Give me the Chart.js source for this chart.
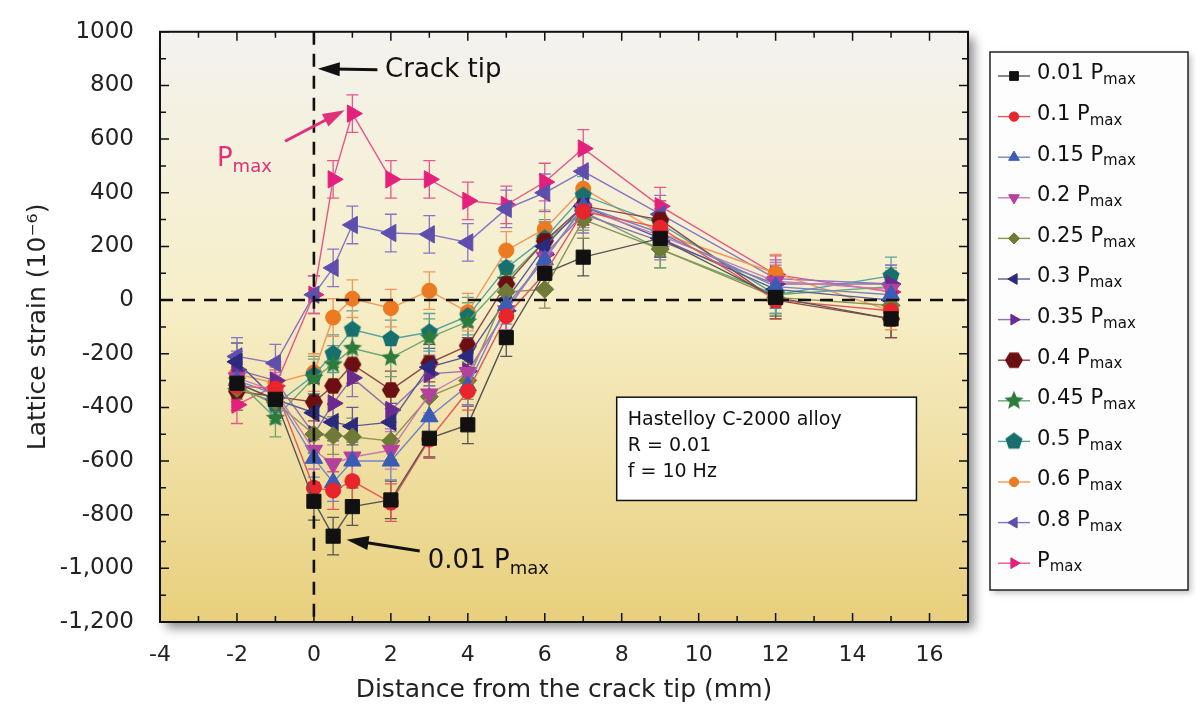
<!DOCTYPE html>
<html lang="en">
<head>
<meta charset="UTF-8">
<title>Lattice strain near the crack tip</title>
<script src="https://cdn.jsdelivr.net/npm/chart.js"></script>
<style>
  html, body { margin: 0; padding: 0; background: #fff; }
</style>
</head>
<body>
<canvas id="strainChart" width="1196" height="714"></canvas>
<script>
// distance from the crack tip (mm)
const distances = [-2, -1, 0, 0.5, 1, 2, 3, 4, 5, 6, 7, 9, 12, 15];

// lattice strain (1e-6) for each load level
const strain001 = [-310, -370, -750, -880, -770, -745, -515, -465, -140, 100, 160, 230, 10, -70];
const strain010 = [-320, -330, -700, -710, -675, -755, -520, -340, -60, 100, 330, 270, 0, -40];
const strain015 = [-300, -350, -590, -680, -600, -600, -435, -320, -20, 150, 350, 250, 50, 20];
const strain020 = [-290, -340, -560, -610, -585, -560, -350, -270, -40, 160, 340, 240, 70, 40];
const strain025 = [-330, -380, -500, -505, -510, -525, -360, -300, 30, 40, 300, 190, 10, -20];
const strain030 = [-230, -370, -420, -455, -470, -455, -250, -210, 0, 200, 350, 230, 40, 0];
const strain035 = [-260, -300, -500, -385, -290, -410, -275, -265, -40, 170, 320, 220, 60, 60];
const strain040 = [-340, -360, -380, -320, -240, -335, -235, -170, 60, 220, 350, 300, 0, -70];
const strain045 = [-300, -440, -290, -240, -180, -215, -140, -80, 75, 220, 330, 190, 20, 50];
const strain050 = [-320, -390, -280, -200, -110, -145, -120, -60, 120, 230, 390, 285, 20, 90];
const strain060 = [-275, -310, -270, -65, 5, -30, 35, -45, 185, 265, 415, 250, 100, -40];
const strain080 = [-210, -235, 20, 120, 280, 250, 245, 215, 340, 400, 480, 320, 80, 60];
const strainPmax = [-390, -320, 20, 450, 695, 450, 450, 370, 355, 440, 565, 350, 95, 30];

const loadFractions = ['0.01', '0.1', '0.15', '0.2', '0.25', '0.3', '0.35', '0.4', '0.45', '0.5', '0.6', '0.8', ''];
const strainSeries = [strain001, strain010, strain015, strain020, strain025, strain030, strain035,
                      strain040, strain045, strain050, strain060, strain080, strainPmax];
const strainError = 70;

const xTicks = [-4, -2, 0, 2, 4, 6, 8, 10, 12, 14, 16];
const yTicks = [1000, 800, 600, 400, 200, 0, -200, -400, -600, -800, -1000, -1200];
const yTickText = ['1000', '800', '600', '400', '200', '0', '-200', '-400', '-600', '-800', '-1,000', '-1,200'];

const FONT = 'DejaVu Sans';

// small canvases for the marker shapes chart.js doesn't have
function polygonMarker(sides, color, r, starred) {
  const size = Math.ceil(r * 2 + 2);
  const c = document.createElement('canvas');
  c.width = size; c.height = size;
  const g = c.getContext('2d');
  g.fillStyle = color;
  g.beginPath();
  const n = starred ? sides * 2 : sides;
  for (let i = 0; i < n; i++) {
    const a = -Math.PI / 2 + i * 2 * Math.PI / n + (sides === 6 ? Math.PI / 6 : 0);
    const rr = starred && i % 2 ? r * 0.45 : r;
    const px = size / 2 + rr * Math.cos(a), py = size / 2 + rr * Math.sin(a);
    if (i === 0) g.moveTo(px, py); else g.lineTo(px, py);
  }
  g.closePath();
  g.fill();
  return c;
}

const markerColors = ['#111111', '#e8242c', '#3c5cb4', '#b5419e', '#6e7a35', '#2b2a7e',
                      '#6a2a8e', '#6c0f12', '#2d7b3c', '#17706e', '#ec7a22', '#5e4fac', '#e5207c'];
const lineColors   = ['#555555', '#e2585a', '#7385c6', '#c47bb6', '#8f9255', '#5a5a96',
                      '#9270b0', '#8a4a45', '#6aa673', '#58a3a2', '#f0985a', '#8676c6', '#e4588e'];
const markerStyles = [
  { style: 'rect', r: 10, rot: 0 },
  { style: 'circle', r: 7.5, rot: 0 },
  { style: 'triangle', r: 10, rot: 0 },
  { style: 'triangle', r: 10, rot: 180 },
  { style: 'rectRot', r: 9, rot: 0 },
  { style: 'triangle', r: 10, rot: -90 },
  { style: 'triangle', r: 10, rot: 90 },
  { style: polygonMarker(6, markerColors[7], 9), r: 9, rot: 0 },
  { style: polygonMarker(5, markerColors[8], 10, true), r: 10, rot: 0 },
  { style: polygonMarker(5, markerColors[9], 9), r: 9, rot: 0 },
  { style: 'circle', r: 7.5, rot: 0 },
  { style: 'triangle', r: 10, rot: -90 },
  { style: 'triangle', r: 10, rot: 90 }
];

const datasets = strainSeries.map((vals, i) => ({
  label: loadFractions[i] + ' Pmax',
  data: distances.map((d, j) => ({ x: d, y: vals[j] })),
  borderColor: lineColors[i],
  borderWidth: 1.4,
  backgroundColor: markerColors[i],
  pointBackgroundColor: markerColors[i],
  pointBorderColor: markerColors[i],
  pointBorderWidth: 1,
  pointStyle: markerStyles[i].style,
  pointRadius: markerStyles[i].r,
  pointRotation: markerStyles[i].rot,
  tension: 0,
  clip: false
}));

function drawSubLabel(ctx, main, x, y, size, color) {
  ctx.fillStyle = color;
  ctx.font = size + 'px "' + FONT + '"';
  ctx.textAlign = 'left';
  ctx.textBaseline = 'middle';
  ctx.fillText(main, x, y);
  const w = ctx.measureText(main).width;
  ctx.font = Math.round(size * 0.7) + 'px "' + FONT + '"';
  ctx.fillText('max', x + w, y + size * 0.3);
}

function arrow(ctx, x1, y1, x2, y2, color) {
  const a = Math.atan2(y2 - y1, x2 - x1);
  const head = 22, half = 7;
  ctx.strokeStyle = color; ctx.fillStyle = color; ctx.lineWidth = 3;
  ctx.beginPath();
  ctx.moveTo(x1, y1);
  ctx.lineTo(x2 - head * Math.cos(a) * 0.8, y2 - head * Math.sin(a) * 0.8);
  ctx.stroke();
  ctx.beginPath();
  ctx.moveTo(x2, y2);
  ctx.lineTo(x2 - head * Math.cos(a) + half * Math.sin(a), y2 - head * Math.sin(a) - half * Math.cos(a));
  ctx.lineTo(x2 - head * Math.cos(a) - half * Math.sin(a), y2 - head * Math.sin(a) + half * Math.cos(a));
  ctx.closePath();
  ctx.fill();
}

const framePlugin = {
  id: 'frame',
  beforeDraw(chart) {
    const { ctx, chartArea: a } = chart;
    ctx.save();
    const grad = ctx.createLinearGradient(0, a.top, 0, a.bottom);
    grad.addColorStop(0, '#f3f2ee');
    grad.addColorStop(0.45, '#f7efc9');
    grad.addColorStop(1, '#e8cf7c');
    ctx.shadowColor = 'rgba(0,0,0,0.45)';
    ctx.shadowBlur = 10;
    ctx.shadowOffsetX = 6;
    ctx.shadowOffsetY = 6;
    ctx.fillStyle = grad;
    ctx.fillRect(a.left, a.top, a.right - a.left, a.bottom - a.top);

    // legend box
    ctx.shadowColor = 'rgba(0,0,0,0.25)';
    ctx.shadowBlur = 6;
    ctx.shadowOffsetX = 3;
    ctx.shadowOffsetY = 3;
    ctx.fillStyle = '#fdfdfd';
    ctx.fillRect(990, 52, 198, 538);
    ctx.restore();
  },
  beforeDatasetsDraw(chart) {
    const { ctx, scales: { x, y } } = chart;
    ctx.save();
    chart.data.datasets.forEach(ds => {
      ctx.strokeStyle = ds.borderColor;
      ctx.lineWidth = 1.3;
      ds.data.forEach(p => {
        const px = x.getPixelForValue(p.x);
        const top = y.getPixelForValue(p.y + strainError);
        const bot = y.getPixelForValue(p.y - strainError);
        ctx.beginPath();
        ctx.moveTo(px, top); ctx.lineTo(px, bot);
        ctx.moveTo(px - 6, top); ctx.lineTo(px + 6, top);
        ctx.moveTo(px - 6, bot); ctx.lineTo(px + 6, bot);
        ctx.stroke();
      });
    });
    ctx.restore();
  },
  afterDatasetsDraw(chart) {
    const { ctx, chartArea: a, scales: { x, y } } = chart;
    ctx.save();

    // zero lines
    ctx.strokeStyle = '#111';
    ctx.lineWidth = 2.6;
    ctx.setLineDash([13, 9]);
    ctx.beginPath();
    ctx.moveTo(a.left, y.getPixelForValue(0)); ctx.lineTo(a.right, y.getPixelForValue(0));
    ctx.moveTo(x.getPixelForValue(0), a.top); ctx.lineTo(x.getPixelForValue(0), a.bottom);
    ctx.stroke();
    ctx.setLineDash([]);

    // frame and inward ticks
    ctx.lineWidth = 2;
    ctx.strokeStyle = '#111';
    ctx.strokeRect(a.left, a.top, a.right - a.left, a.bottom - a.top);
    ctx.lineWidth = 1.5;
    ctx.beginPath();
    for (let v = -1200; v <= 1000; v += 100) {
      const py = y.getPixelForValue(v);
      const len = v % 200 === 0 ? 9 : 6;
      ctx.moveTo(a.left, py); ctx.lineTo(a.left + len, py);
      ctx.moveTo(a.right, py); ctx.lineTo(a.right - len, py);
    }
    for (let v = -4; v <= 17; v += 1) {
      const px = x.getPixelForValue(v);
      const len = v % 2 === 0 ? 9 : 6;
      ctx.moveTo(px, a.bottom); ctx.lineTo(px, a.bottom - len);
      ctx.moveTo(px, a.top); ctx.lineTo(px, a.top + len);
    }
    ctx.stroke();

    // annotations
    const tipX = x.getPixelForValue(0.1), tipY = y.getPixelForValue(862);
    arrow(ctx, x.getPixelForValue(1.65), tipY + 1, tipX, tipY, '#111');
    ctx.fillStyle = '#111';
    ctx.font = '26px "' + FONT + '"';
    ctx.textAlign = 'left';
    ctx.textBaseline = 'middle';
    ctx.fillText('Crack tip', x.getPixelForValue(1.85), y.getPixelForValue(855));

    arrow(ctx, x.getPixelForValue(-0.75), y.getPixelForValue(592),
          x.getPixelForValue(0.8), y.getPixelForValue(708), '#e0307a');
    drawSubLabel(ctx, 'P', x.getPixelForValue(-2.52), y.getPixelForValue(525), 26, '#e0307a');

    arrow(ctx, x.getPixelForValue(2.75), y.getPixelForValue(-935),
          x.getPixelForValue(0.85), y.getPixelForValue(-893), '#111');
    drawSubLabel(ctx, '0.01 P', x.getPixelForValue(2.96), y.getPixelForValue(-975), 26, '#111');

    // material box
    const bx = x.getPixelForValue(7.87), by = y.getPixelForValue(-362);
    const bw = x.getPixelForValue(15.66) - bx, bh = y.getPixelForValue(-747) - by;
    ctx.fillStyle = '#ffffff';
    ctx.fillRect(bx, by, bw, bh);
    ctx.lineWidth = 1.5;
    ctx.strokeStyle = '#111';
    ctx.strokeRect(bx, by, bw, bh);
    ctx.fillStyle = '#111';
    ctx.font = '19px "' + FONT + '"';
    ctx.fillText('Hastelloy C-2000 alloy', bx + 11, by + 23);
    ctx.fillText('R = 0.01', bx + 11, by + 49);
    ctx.fillText('f = 10 Hz', bx + 11, by + 75);

    // legend
    ctx.lineWidth = 1.5;
    ctx.strokeStyle = '#222';
    ctx.strokeRect(990, 52, 198, 538);
    chart.data.datasets.forEach((ds, i) => {
      const ly = 76 + i * 40.6;
      ctx.strokeStyle = ds.borderColor;
      ctx.lineWidth = 1.4;
      ctx.beginPath();
      ctx.moveTo(998, ly); ctx.lineTo(1030, ly);
      ctx.stroke();
      ctx.fillStyle = ds.pointBackgroundColor;
      ctx.strokeStyle = ds.pointBorderColor;
      ctx.lineWidth = 1;
      Chart.helpers.drawPoint(ctx, {
        pointStyle: ds.pointStyle,
        radius: ds.pointRadius * 0.62,
        rotation: ds.pointRotation,
        borderWidth: 1
      }, 1014, ly);
      const txt = loadFractions[i] ? loadFractions[i] + ' P' : 'P';
      drawSubLabel(ctx, txt, 1037, ly - 2, 21, '#111');
    });

    // axis titles
    ctx.fillStyle = '#222';
    ctx.font = '25px "' + FONT + '"';
    ctx.textAlign = 'center';
    ctx.textBaseline = 'middle';
    ctx.fillText('Distance from the crack tip (mm)', (a.left + a.right) / 2, 690);
    ctx.translate(38, (a.top + a.bottom) / 2);
    ctx.rotate(-Math.PI / 2);
    ctx.fillText('Lattice strain (10\u207B\u2076)', 0, 0);
    ctx.restore();
  }
};

new Chart(document.getElementById('strainChart').getContext('2d'), {
  type: 'line',
  data: { datasets: datasets },
  options: {
    responsive: false,
    animation: false,
    layout: { padding: { left: 0, right: 228, top: 22, bottom: 0 } },
    plugins: { legend: { display: false }, tooltip: { enabled: false } },
    scales: {
      x: {
        type: 'linear',
        min: -4,
        max: 17,
        afterFit(scale) { scale.height = 92; },
        grid: { display: false },
        border: { display: false },
        ticks: {
          stepSize: 2,
          includeBounds: false,
          padding: 12,
          color: '#222',
          font: { family: FONT, size: 22 },
          callback: v => xTicks.includes(v) ? String(v) : ''
        }
      },
      y: {
        min: -1200,
        max: 1000,
        afterFit(scale) { scale.width = 160; },
        grid: { display: false },
        border: { display: false },
        ticks: {
          stepSize: 200,
          padding: 18,
          color: '#222',
          font: { family: FONT, size: 23 },
          callback: v => {
            const k = yTicks.indexOf(v);
            return k >= 0 ? yTickText[k] : '';
          }
        }
      }
    }
  },
  plugins: [framePlugin]
});
</script>
</body>
</html>
